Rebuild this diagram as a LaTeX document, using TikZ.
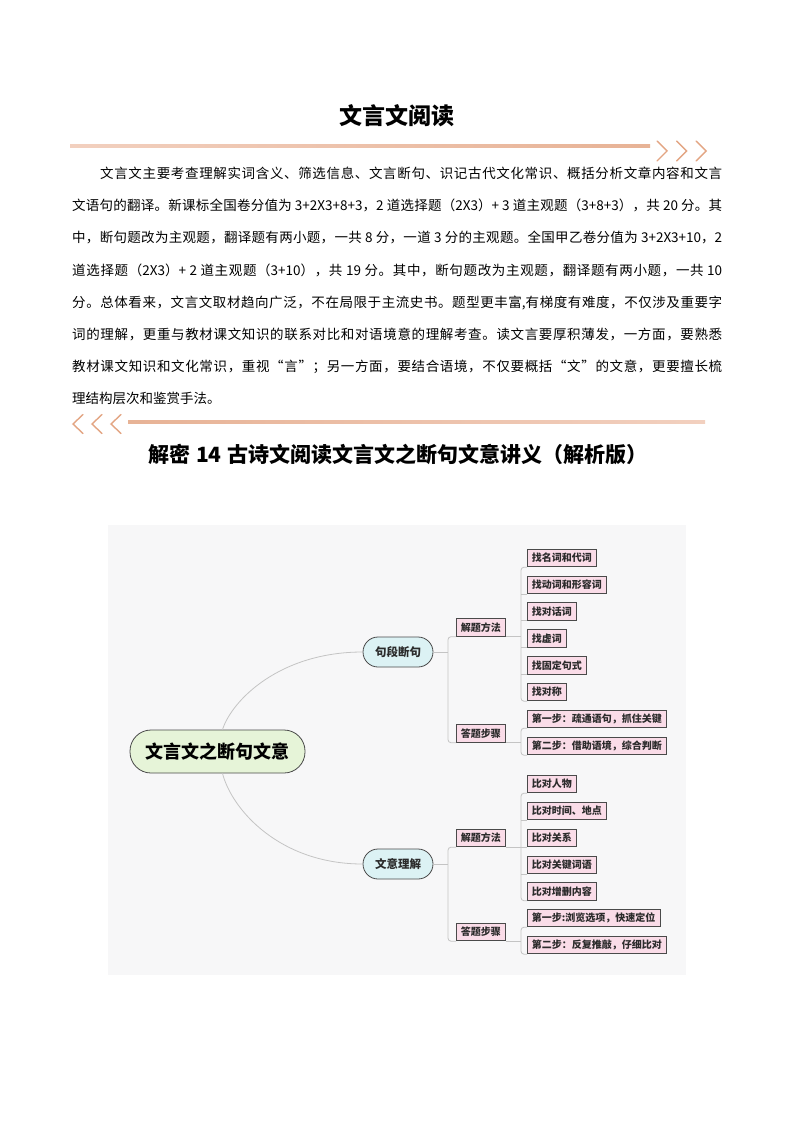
\documentclass[tikz,border=0pt]{standalone}
\usepackage{fontspec}
\setmainfont{Noto Sans CJK SC}
\usetikzlibrary{calc}
\definecolor{peach}{HTML}{E3A583}
\definecolor{peachlight}{HTML}{F2D0BF}
\definecolor{mapbg}{HTML}{F7F7F8}
\definecolor{rootfill}{HTML}{E6F4D8}
\definecolor{topicfill}{HTML}{DCF2F4}
\definecolor{subfill}{HTML}{FADCE8}
\definecolor{edgec}{HTML}{4A4A4A}
\definecolor{connc}{HTML}{C4C4C4}
\definecolor{labelc}{HTML}{2B2B2B}
% inter-character stretch for justified CJK lines
\newXeTeXintercharclass\mycjkclass
\count255="3000
\loop \XeTeXcharclass\count255=\mycjkclass\relax \ifnum\count255<"9FFF \advance\count255 by 1 \repeat
\count255="FF00
\loop \XeTeXcharclass\count255=\mycjkclass\relax \ifnum\count255<"FFEF \advance\count255 by 1 \repeat
\XeTeXcharclass"201C=\mycjkclass\relax
\XeTeXcharclass"201D=\mycjkclass\relax
\XeTeXinterchartoks\mycjkclass\mycjkclass={\hskip0pt plus 2pt\relax}
\newcommand\justline[2]{\makebox[#1][s]{\XeTeXinterchartokenstate=1\relax #2}}
\begin{document}
\begin{tikzpicture}[x=1pt,y=-1pt,
  bodyline/.style={anchor=base west,inner sep=0pt,font=\fontsize{13.5}{16}\selectfont},
  chev/.style={draw=peach,line width=1.4pt,line cap=round,line join=miter},
  rootbox/.style={draw=edgec,line width=0.8pt,fill=rootfill,rounded corners=21pt,
    minimum width=175pt,minimum height=43pt,inner sep=0pt,
    font=\fontsize{18}{20}\selectfont\bfseries,text=black},
  topicbox/.style={draw=edgec,line width=0.8pt,fill=topicfill,rounded corners=15pt,
    minimum width=70pt,minimum height=30pt,inner sep=0pt,
    font=\fontsize{11.5}{13}\selectfont\bfseries,text=labelc},
  subbox/.style={draw=edgec,line width=0.9pt,fill=subfill,anchor=west,
    minimum height=17.5pt,inner ysep=0pt,inner xsep=4.5pt,
    font=\fontsize{10}{11}\selectfont\bfseries,text=labelc},
  conn/.style={draw=connc,line width=0.8pt},
  spine/.style={draw=connc,line width=0.8pt,rounded corners=3pt}]
\useasboundingbox[fill=white] (0,0) rectangle (794,1123);

% title
\node[font=\fontsize{23}{25}\selectfont\bfseries] (title) at (397,116) {文言文阅读};

% top decoration
\shade[left color=peachlight,right color=peach!85] (70,144.5) rectangle (650,147.5);
\draw[chev] (657,141) -- (667,151) -- (657,161);
\draw[chev] (676.5,141) -- (686.5,151) -- (676.5,161);
\draw[chev] (696,141) -- (706,151) -- (696,161);

% body text
\node[bodyline] (l1) at (100,179) {\justline{622pt}{文言文主要考查理解实词含义、筛选信息、文言断句、识记古代文化常识、概括分析文章内容和文言}};
\node[bodyline] (l2) at (72,211) {\justline{650pt}{文语句的翻译。新课标全国卷分值为 3+2X3+8+3，2 道选择题（2X3）+ 3 道主观题（3+8+3），共 20 分。其}};
\node[bodyline] (l3) at (72,243) {\justline{650pt}{中，断句题改为主观题，翻译题有两小题，一共 8 分，一道 3 分的主观题。全国甲乙卷分值为 3+2X3+10，2}};
\node[bodyline] (l4) at (72,275) {\justline{650pt}{道选择题（2X3）+ 2 道主观题（3+10），共 19 分。其中，断句题改为主观题，翻译题有两小题，一共 10}};
\node[bodyline] (l5) at (72,307) {\justline{650pt}{分。总体看来，文言文取材趋向广泛，不在局限于主流史书。题型更丰富,有梯度有难度，不仅涉及重要字}};
\node[bodyline] (l6) at (72,339) {\justline{650pt}{词的理解，更重与教材课文知识的联系对比和对语境意的理解考查。读文言要厚积薄发，一方面，要熟悉}};
\node[bodyline] (l7) at (72,371) {\justline{650pt}{教材课文知识和文化常识，重视“言”；另一方面，要结合语境，不仅要概括“文”的文意，更要擅长梳}};
\node[bodyline] (l8) at (72,403) {理结构层次和鉴赏手法。};

% bottom decoration
\draw[chev] (83,414.5) -- (73,424) -- (83,433.5);
\draw[chev] (102,414.5) -- (92,424) -- (102,433.5);
\draw[chev] (121,414.5) -- (111,424) -- (121,433.5);
\shade[left color=peach!85,right color=peachlight] (128,420.5) rectangle (705,423.5);

% subtitle
\node[font=\fontsize{21}{23}\selectfont\bfseries] (subtitle) at (398,454) {解密\hspace{6pt}14\hspace{6pt}古诗文阅读文言文之断句文意讲义（解析版）};

% mind map background
\fill[mapbg] (108,525) rectangle (686,975);

% nodes
\node[rootbox] (root) at (217.5,751.5) {文言文之断句文意};
\node[topicbox] (t1) at (398,652) {句段断句};
\node[topicbox] (t2) at (398,864) {文意理解};

\node[subbox] (a1) at (456,627.5) {解题方法};
\node[subbox] (a2) at (456,733.5) {答题步骤};
\node[subbox] (b1) at (456,838) {解题方法};
\node[subbox] (b2) at (456,932) {答题步骤};

\node[subbox] (a11) at (527,558) {找名词和代词};
\node[subbox] (a12) at (527,584.8) {找动词和形容词};
\node[subbox] (a13) at (527,611.6) {找对话词};
\node[subbox] (a14) at (527,638.4) {找虚词};
\node[subbox] (a15) at (527,665.2) {找固定句式};
\node[subbox] (a16) at (527,692) {找对称};
\node[subbox] (a21) at (527,719) {第一步：疏通语句，抓住关键};
\node[subbox] (a22) at (527,746) {第二步：借助语境，综合判断};

\node[subbox] (b11) at (527,784) {比对人物};
\node[subbox] (b12) at (527,811) {比对时间、地点};
\node[subbox] (b13) at (527,838) {比对关系};
\node[subbox] (b14) at (527,865) {比对关键词语};
\node[subbox] (b15) at (527,891.5) {比对增删内容};
\node[subbox] (b21) at (527,918) {第一步:浏览选项，快速定位};
\node[subbox] (b22) at (527,945) {第二步：反复推敲，仔细比对};

% root connectors
\draw[conn] ($(root.north)+(5,0)$) .. controls (232,700) and (280,652) .. (t1.west);
\draw[conn] ($(root.south)+(5,0)$) .. controls (232,810) and (280,864) .. (t2.west);

% topic to level 2
\draw[conn] (t1.east) -- ++(15,0);
\draw[spine] (a1.south west) -- ++(-8,0) |- (a2.south west);
\draw[conn] (t2.east) -- ++(15,0);
\draw[spine] (b1.south west) -- ++(-8,0) |- (b2.south west);

% level 2 to level 3 (upper)
\draw[conn] (a1.south east) -- (a1.south east -| {$(a11.south west)+(-6,0)$});
\draw[spine] (a11.south west) -- ++(-6,0) |- (a16.south west);
\foreach \n in {a12,a13,a14,a15} \draw[conn] (\n.south west) -- ++(-6,0);
\draw[conn] (a2.south east) -- (a2.south east -| {$(a21.south west)+(-6,0)$});
\draw[spine] (a21.south west) -- ++(-6,0) |- (a22.south west);

% level 2 to level 3 (lower)
\draw[conn] (b1.south east) -- (b1.south east -| {$(b11.south west)+(-6,0)$});
\draw[spine] (b11.south west) -- ++(-6,0) |- (b15.south west);
\foreach \n in {b12,b13,b14} \draw[conn] (\n.south west) -- ++(-6,0);
\draw[conn] (b2.south east) -- (b2.south east -| {$(b21.south west)+(-6,0)$});
\draw[spine] (b21.south west) -- ++(-6,0) |- (b22.south west);
\end{tikzpicture}
\end{document}
